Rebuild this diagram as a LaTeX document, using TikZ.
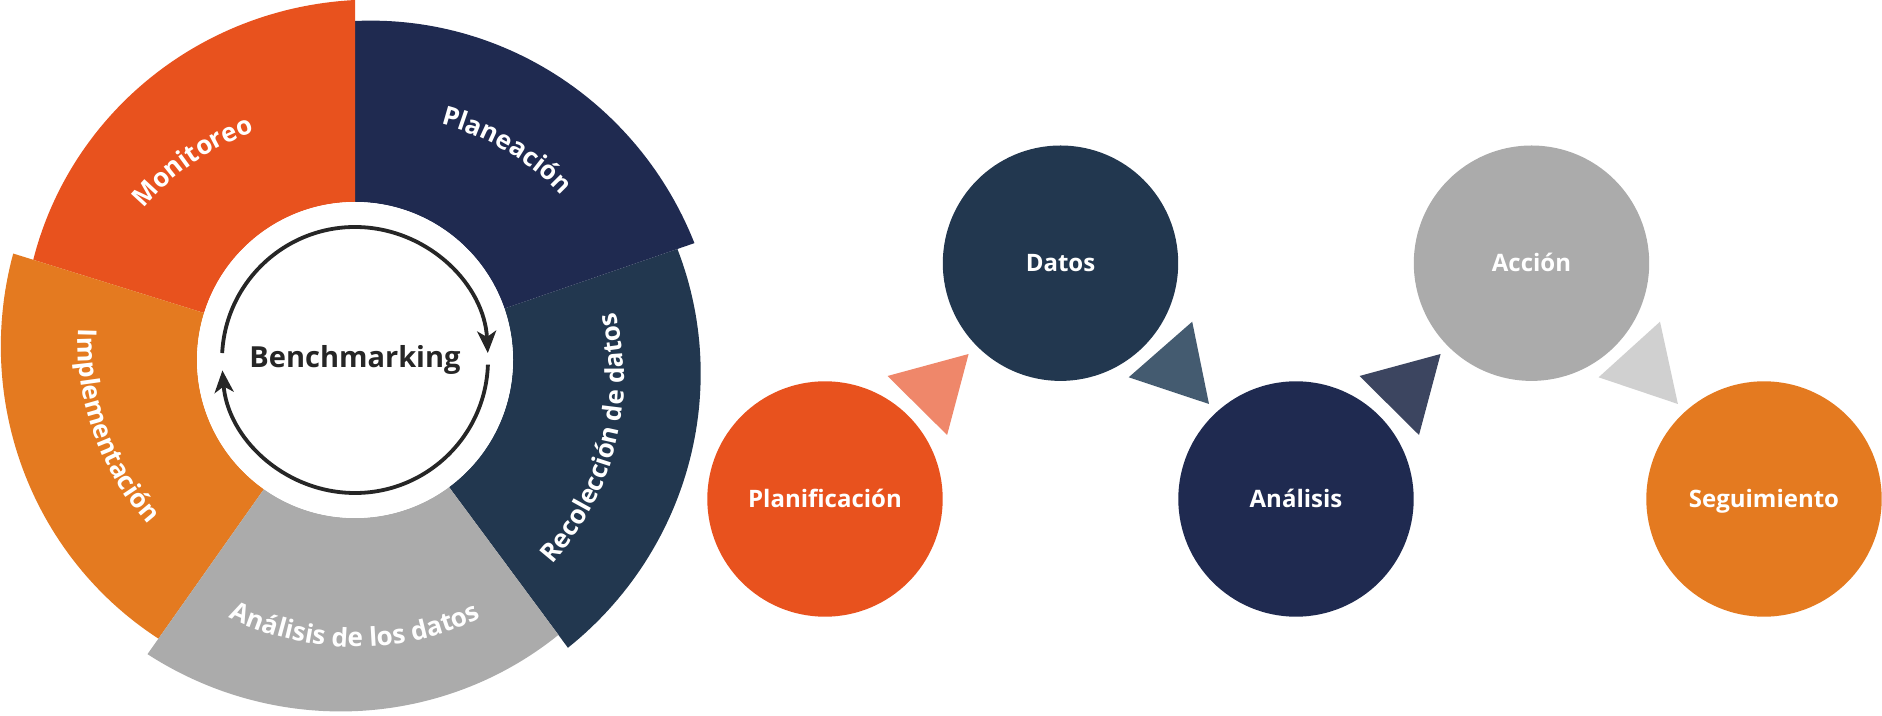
\documentclass[tikz,border=0pt]{standalone}
\usepackage{fontspec}
\setmainfont{Open Sans}
\usetikzlibrary{arrows.meta,calc,decorations.text}

\definecolor{stepred}{HTML}{E8521E}
\definecolor{steporange}{HTML}{E47A20}
\definecolor{stepnavy}{HTML}{1F2A50}
\definecolor{stepblue}{HTML}{22374F}
\definecolor{stepgray}{HTML}{ABABAB}
\definecolor{trisalmon}{HTML}{EF876A}
\definecolor{trislate}{HTML}{445B70}
\definecolor{trinavy}{HTML}{3C4560}
\definecolor{trigray}{HTML}{D0D0D0}
\definecolor{ringgray}{HTML}{262626}

\newcommand{\lblfont}{\fontsize{24}{28}\selectfont\bfseries}
\newcommand{\arcfont}{\fontsize{26}{30}\selectfont\bfseries\color{white}}
% spiral arc round the hub: start angle, end angle, start radius, end radius
\newcommand{\spiral}[4]{plot[domain=#1:#2, samples=60, variable=\t] ({355+(#3+(#4-(#3))*(\t-(#1))/(#2-(#1)))*cos(\t)}, {355+(#3+(#4-(#3))*(\t-(#1))/(#2-(#1)))*sin(\t)})}

\begin{document}
\begin{tikzpicture}[x=1pt,y=1pt,
    stepnode/.style={circle, fill=#1, minimum size=235.4pt, inner sep=0pt, text=white, font=\lblfont, text height=17pt, text depth=0pt},
    ring/.style={line width=3.8pt, draw=ringgray, -{Stealth[length=22pt,width=19pt,inset=6pt]}}]
    \useasboundingbox (0,0) rectangle (1882,715);

    % Wheel segments
    \foreach \a/\b/\ra/\rb/\col in {-53.5/19/358/341/stepblue, 19/90/359/339/stepnavy, 90/162.7/360/337/stepred, 162.7/234.8/358/341/steporange, 234.8/306.5/360/342/stepgray} {
        \fill[\col] \spiral{\a}{\b}{\ra}{\rb}
            -- ({355+158*cos(\b)}, {355+158*sin(\b)}) arc[start angle=\b, end angle=\a, radius=158] -- cycle;
    }

    % Hub with cycle arrows
    \node[circle, fill=white, minimum size=316pt, inner sep=0pt, font=\fontsize{29}{34}\selectfont\bfseries, text=ringgray] (hub) at (355,355) {Benchmarking};
    \draw[ring] ($(hub)+(177:133)$) arc[start angle=177, end angle=3, radius=133];
    \draw[ring] ($(hub)+(-2:133)$) arc[start angle=-2, end angle=-175.5, radius=133];

    % Segment labels
    \path[decorate, decoration={text along path, text align=center, text={|\arcfont|Monitoreo}}] \spiral{170}{86}{269.7}{238.5};
    \path[decorate, decoration={text along path, text align=center, text={|\arcfont|Planeación}}] \spiral{98}{13}{239.6}{274.9};
    \path[decorate, decoration={text along path, text align=center, text={|\arcfont|Recolección de datos}}] \spiral{-70}{37}{292}{256};
    \path[decorate, decoration={text along path, text align=center, text={|\arcfont|Implementación}}] \spiral{150}{244}{285.9}{256.2};
    \path[decorate, decoration={text along path, text align=center, text={|\arcfont|Análisis de los datos}}] \spiral{220}{320}{287}{287};

    % Steps
    \node[stepnode=stepred] (plani) at (825,216) {Planificación};
    \node[stepnode=stepblue] (datos) at (1060.5,451.8) {Datos};
    \node[stepnode=stepnavy] (anali) at (1296,216) {Análisis};
    \node[stepnode=stepgray] (accion) at (1531.5,451.8) {Acción};
    \node[stepnode=steporange] (segui) at (1764,216) {Seguimiento};

    % Triangle pointers between steps
    \fill[trisalmon] ($(plani)+(62.5,123)$) -- ($(plani)+(143.6,145)$) -- ($(plani)+(122.1,64)$) -- cycle;
    \fill[trislate] ($(datos)+(131.7,-58.5)$) -- ($(datos)+(68.2,-114.1)$) -- ($(datos)+(148.5,-140.8)$) -- cycle;
    \fill[trinavy] ($(anali)+(63.5,123)$) -- ($(anali)+(144.6,145)$) -- ($(anali)+(123,64)$) -- cycle;
    \fill[trigray] ($(accion)+(128.5,-58.5)$) -- ($(accion)+(67.1,-114.1)$) -- ($(accion)+(146.4,-140.8)$) -- cycle;
\end{tikzpicture}
\end{document}
